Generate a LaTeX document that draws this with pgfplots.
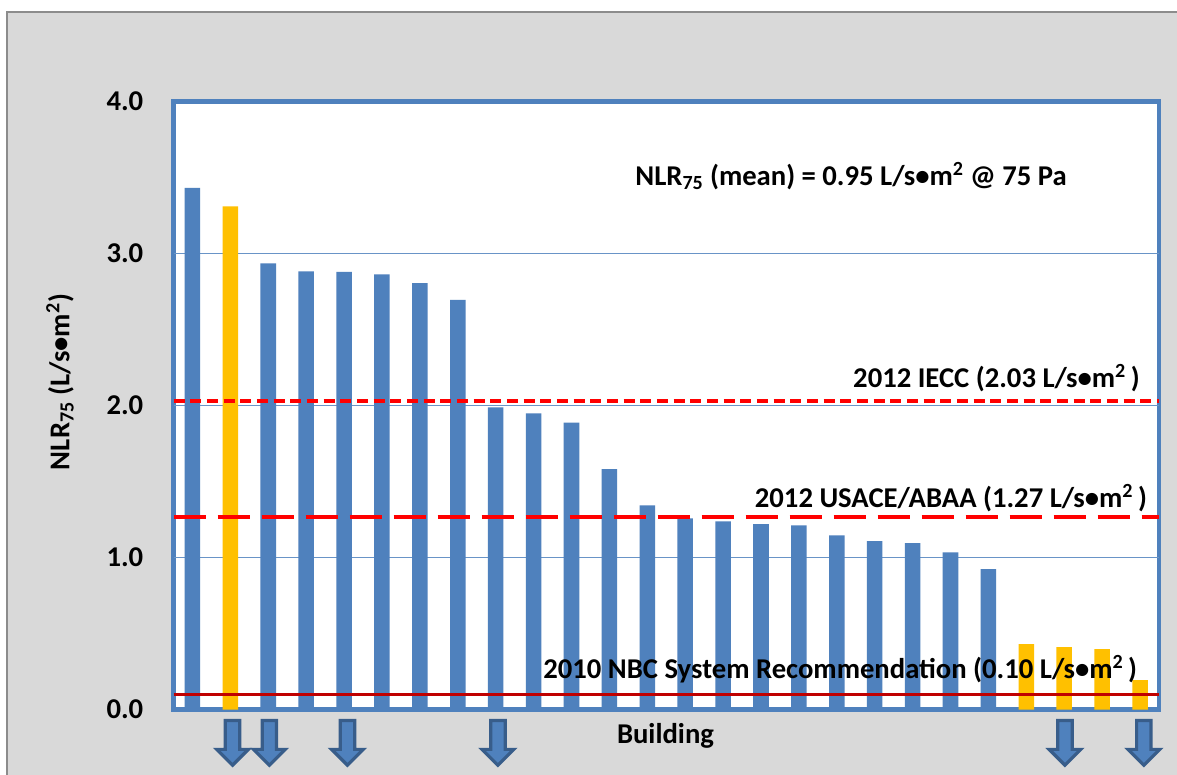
\documentclass[border=0pt]{standalone}
\usepackage{pgfplots}
\pgfplotsset{compat=1.18}
\usepackage{fontspec}
\setmainfont{Carlito}

\definecolor{barblue}{HTML}{4F81BD}
\definecolor{barorange}{HTML}{FFC000}
\definecolor{panelgray}{HTML}{D9D9D9}
\definecolor{paneledge}{HTML}{8C8C8C}
\definecolor{arrdark}{HTML}{385D8A}
\definecolor{nbcred}{HTML}{C00000}
\definecolor{refred}{HTML}{FF0000}

\newcommand{\lbl}{\fontsize{21.5}{26}\selectfont\bfseries}
\newcommand{\sq}{\textsuperscript{2}}

% down arrow hung below a building's bar
\newcommand{\flagarrow}[1]{%
  \filldraw[fill=barblue, draw=arrdark, line width=2.4pt, line join=miter]
    (axis cs:#1,0) ++(-5.4pt,-8.3pt) -- ++(0pt,-21.6pt) -- ++(-6.5pt,0pt)
    -- ++(11.9pt,-11.9pt) -- ++(11.9pt,11.9pt) -- ++(-6.5pt,0pt)
    -- ++(0pt,21.6pt) -- cycle;}

\begin{document}
\begin{tikzpicture}
\useasboundingbox (0pt,0pt) rectangle (882.75pt,580.5pt);
\fill[white] (0pt,0pt) rectangle (882.75pt,580.5pt);
\filldraw[fill=panelgray, draw=paneledge, line width=1.2pt] (5.25pt,-7.5pt) rectangle (892.5pt,571.5pt);

\begin{axis}[
  at={(130.125pt,48.375pt)}, anchor=south west,
  scale only axis, width=739.1pt, height=455.9pt,
  xmin=-0.5, xmax=25.5, ymin=0, ymax=4,
  axis background/.style={fill=white},
  axis line style={draw=barblue, line width=3.6pt},
  xtick=\empty,
  ytick={0,1,2,3,4},
  major tick length=0pt,
  yticklabel style={font=\lbl, anchor=east, inner sep=0pt, xshift=-22.5pt},
  /pgf/number format/assume math mode=true,
  yticklabel={\pgfmathprintnumber[fixed,fixed zerofill,precision=1]{\tick}},
  clip=false,
]
% horizontal gridlines
\addplot[barblue!85, line width=1.1pt] coordinates {(-0.5,1) (25.5,1)};
\addplot[barblue!85, line width=1.1pt] coordinates {(-0.5,2) (25.5,2)};
\addplot[barblue!85, line width=1.1pt] coordinates {(-0.5,3) (25.5,3)};

% leaky buildings
\addplot[ybar, bar shift=0pt, bar width=0.41, fill=barblue, draw=none] coordinates {
  (0,3.433) (2,2.935) (3,2.883) (4,2.880) (5,2.863) (6,2.806) (7,2.696)
  (8,1.988) (9,1.949) (10,1.887) (11,1.582) (12,1.343) (13,1.258)
  (14,1.238) (15,1.220) (16,1.212) (17,1.146) (18,1.108) (19,1.095)
  (20,1.034) (21,0.924)
};
% highlighted buildings
\addplot[ybar, bar shift=0pt, bar width=0.41, fill=barorange, draw=none] coordinates {
  (1,3.310) (22,0.431) (23,0.411) (24,0.398) (25,0.194)
};

% reference levels
\addplot[refred, line width=3pt, dash pattern=on 8.3pt off 4.2pt] coordinates {(-0.5,2.03) (25.5,2.03)};
\addplot[refred, line width=3pt, dash pattern=on 24pt off 9pt] coordinates {(-0.5,1.27) (25.5,1.27)};
\addplot[nbcred, line width=2.5pt] coordinates {(-0.5,0.10) (25.5,0.10)};

\node[font=\lbl, anchor=base east, inner sep=0pt] at (axis cs:25.0,2.12) {2012 IECC (2.03 L/s•m\sq\,)};
\node[font=\lbl, anchor=base east, inner sep=0pt] at (axis cs:25.19,1.326) {2012 USACE/ABAA (1.27 L/s•m\sq\,)};
\node[font=\lbl, anchor=base west, inner sep=0pt] at (axis cs:9.25,0.207) {2010 NBC System Recommendation (0.10 L/s•m\sq\,)};
\node[font=\lbl, anchor=base west, inner sep=0pt] at (axis cs:11.68,3.45) {NLR\textsubscript{75} (mean) = 0.95 L/s•m\sq{} @ 75 Pa};

\flagarrow{1.057}
\flagarrow{2.03}
\flagarrow{4.09}
\flagarrow{8.06}
\flagarrow{23.02}
\flagarrow{25.1}
\end{axis}

\node[font=\lbl, anchor=base, inner sep=0pt] at (499.1pt,22.5pt) {Building};
\node[font=\lbl, rotate=90, inner sep=0pt] at (45pt,294pt) {NLR\textsubscript{75} (L/s•m\sq)};
\end{tikzpicture}
\end{document}
